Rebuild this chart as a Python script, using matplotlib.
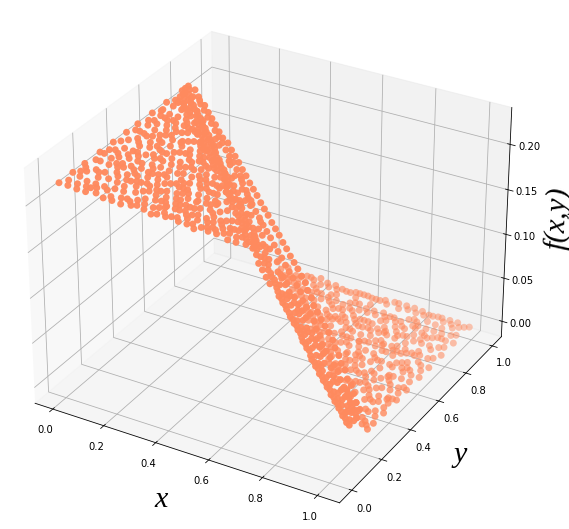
import matplotlib
matplotlib.use('Agg')
import matplotlib.pyplot as plt
import numpy as np
from matplotlib.colors import to_rgb

W, H = 569, 529

# upper wing, one x and z per row with the y values found along that row
fan1_x = [.00,.01,.02,.03,.04,.05,.06,.07,.08,.09,.10,.11,.12,.13,.14,.15,.16,.17,.18,.19,.20,.21,.22,.23,.24,
          .25,.26,.27,.28,.29,.30,.31,.32,.33,.34,.35,.36,.37,.38,.39,.40,.41,.42,.43,.44,.45,.46,.48]
fan1_z = [.218,.216,.214,.211,.209,.207,.205,.203,.201,.198,.196,.194,.192,.190,.187,.185,.183,.181,.179,.177,.174,.172,.170,.168,.166,
          .164,.161,.159,.157,.155,.153,.150,.148,.146,.144,.142,.140,.137,.135,.133,.131,.129,.126,.124,.122,.120,.118,.113]
fan1_y = [[.01,.09,.16,.25,.33,.41,.48,.57,.66,.78], [.05,.12,.21,.29,.36,.45,.53,.61,.70,.76],
          [.03,.14,.22,.31,.39,.51,.59,.67,.74], [.07,.18,.27,.35,.43,.55,.63,.72,.77],
          [.05,.11,.24,.30,.47,.52,.60,.69,.75], [.09,.16,.20,.34,.41,.49,.58,.65,.73],
          [.07,.13,.26,.33,.38,.46,.56,.62,.71], [.12,.19,.28,.37,.44,.54,.67,.74],
          [.10,.23,.31,.40,.50,.59,.64,.72], [.15,.21,.27,.36,.47,.55,.61,.70],
          [.11,.18,.25,.34,.42,.52,.63,.73], [.14,.22,.30,.39,.48,.57,.66,.71],
          [.13,.20,.28,.35,.44,.51,.60,.68], [.17,.26,.33,.41,.53,.62,.70],
          [.15,.24,.31,.38,.46,.58,.67], [.19,.27,.36,.43,.50,.56,.69],
          [.18,.22,.29,.40,.48,.61,.65], [.20,.32,.37,.45,.54,.59,.68],
          [.23,.30,.39,.47,.57,.64], [.21,.28,.35,.44,.52,.66],
          [.25,.33,.41,.49,.55,.62], [.22,.31,.38,.46,.58,.65],
          [.24,.29,.36,.43,.51,.60], [.27,.34,.42,.53,.63],
          [.26,.32,.40,.48,.57], [.28,.37,.45,.54,.62],
          [.30,.35,.43,.50,.60], [.29,.39,.47,.55,.63],
          [.33,.41,.52,.58], [.31,.38,.46,.61],
          [.36,.44,.49,.56], [.32,.40,.53,.60],
          [.35,.43,.47,.57], [.37,.50,.58],
          [.36,.44,.54], [.39,.46,.56],
          [.38,.48,.52], [.41,.45,.55],
          [.43,.51], [.40,.54], [.44,.49], [.42,.53], [.47,.52],
          [.45], [.50], [.47], [.51], [.49]]

# lower wing
fan2_x = [1.00,.99,.98,.97,.96,.95,.94,.93,.92,.91,.90,.89,.88,.87,.86,.85,.84,.83,.82,.81,.80,.79,.78,.77,.76,
          .75,.74,.73,.72,.71,.70,.69,.68,.67,.66,.65,.64,.63,.62,.61,.60,.59,.58,.57,.56,.55,.54,.52]
fan2_z = [.000,.002,.004,.007,.009,.011,.013,.015,.017,.020,.022,.024,.026,.028,.031,.033,.035,.037,.039,.041,.044,.046,.048,.050,.052,
          .055,.057,.059,.061,.063,.065,.068,.070,.072,.074,.076,.078,.081,.083,.085,.087,.089,.092,.094,.096,.098,.100,.105]
fan2_y = [[.25,.29,.36,.45,.52,.61,.68,.77,.86,.98], [.26,.32,.41,.48,.56,.64,.73,.81,.90,.96],
          [.25,.34,.43,.50,.59,.71,.79,.88,.94], [.27,.38,.46,.54,.66,.75,.83,.91,.95],
          [.25,.31,.40,.48,.57,.69,.76,.85,.92], [.28,.36,.44,.52,.62,.70,.80,.87,.93],
          [.26,.34,.42,.51,.60,.67,.74,.83,.90], [.30,.39,.47,.58,.65,.78,.86,.91],
          [.28,.37,.44,.55,.63,.72,.81,.90], [.33,.40,.50,.59,.68,.74,.84,.88],
          [.29,.38,.46,.53,.61,.71,.79,.87], [.31,.35,.43,.52,.62,.70,.77,.85],
          [.30,.41,.49,.57,.66,.73,.80,.86], [.34,.45,.53,.60,.69,.78,.83],
          [.32,.39,.47,.56,.64,.74,.84], [.31,.37,.51,.58,.65,.72,.81],
          [.35,.42,.46,.55,.62,.73,.82], [.33,.41,.50,.54,.63,.69,.78],
          [.36,.44,.52,.60,.70,.80], [.34,.47,.55,.63,.71,.79],
          [.35,.41,.50,.58,.67,.75], [.38,.45,.53,.61,.68,.76],
          [.36,.43,.48,.57,.65,.74], [.40,.49,.58,.66,.73],
          [.37,.46,.54,.63,.72], [.39,.44,.52,.60,.71],
          [.38,.47,.55,.64,.70], [.41,.50,.57,.62,.69],
          [.40,.48,.59,.68], [.39,.45,.54,.66],
          [.43,.51,.58,.65], [.41,.47,.55,.64],
          [.42,.49,.56,.62], [.44,.53,.63],
          [.43,.50,.60], [.46,.54,.61],
          [.44,.52,.58], [.47,.55,.60],
          [.45,.57], [.48,.53], [.46,.56], [.49,.54], [.47,.52],
          [.50], [.48], [.52], [.49], [.51]]

# dense ridge between the wings, two y values on every row
ridge_x = [.00,.01,.02,.03,.04,.05,.06,.07,.08,.09,.10,.11,.12,.13,.14,.15,.16,.17,.18,.19,.20,.21,.22,.23,.24,.25,
           .26,.27,.28,.29,.30,.31,.32,.33,.34,.35,.36,.37,.38,.39,.40,.41,.42,.43,.44,.45,.46,.47,.48,.49,.50,
           .51,.52,.53,.54,.55,.56,.57,.58,.59,.60,.61,.62,.63,.64,.65,.66,.67,.68,.69,.70,.71,.72,.73,.74,.75,
           .76,.77,.78,.79,.80,.81,.82,.83,.84,.85,.86,.87,.88,.89,.90,.91,.92,.93,.94,.95,.96]
ridge_z = [.218,.216,.214,.211,.209,.207,.205,.203,.201,.198,.196,.194,.192,.190,.187,.185,.183,.181,.179,.177,.174,.172,.170,.168,.166,.164,
           .161,.159,.157,.155,.153,.150,.148,.146,.144,.142,.140,.137,.135,.133,.131,.129,.126,.124,.122,.120,.118,.116,.113,.111,.109,
           .107,.105,.102,.100,.098,.096,.094,.092,.089,.087,.085,.083,.081,.078,.076,.074,.072,.070,.068,.065,.063,.061,.059,.057,.055,
           .052,.050,.048,.046,.044,.041,.039,.037,.035,.033,.031,.028,.026,.024,.022,.020,.017,.015,.013,.011,.009]
ridge_y = [.76,.80, .73,.79, .77,.81, .72,.78, .75,.80, .71,.79, .74,.78, .70,.79, .73,.77, .69,.78,
           .72,.76, .68,.77, .71,.75, .67,.76, .70,.74, .65,.75, .68,.73, .64,.74, .67,.72, .62,.74,
           .65,.71, .61,.73, .64,.70, .60,.72, .63,.69, .59,.71, .62,.68, .57,.70, .60,.67, .56,.69,
           .59,.65, .55,.68, .57,.64, .53,.67, .56,.62, .52,.66, .54,.61, .50,.65, .53,.60, .49,.64,
           .52,.59, .48,.63, .50,.58, .47,.62, .49,.57, .46,.61, .47,.56, .45,.60, .46,.55, .43,.59,
           .45,.54, .42,.58, .44,.53, .41,.57, .43,.52, .40,.56, .42,.51, .41,.55, .40,.50, .39,.54,
           .39,.49, .38,.53, .38,.48, .37,.51, .37,.46, .36,.50, .36,.45, .35,.48, .35,.44, .34,.47,
           .34,.43, .33,.46, .32,.41, .32,.45, .31,.40, .31,.44, .30,.38, .29,.43, .29,.37, .28,.41,
           .28,.36, .27,.40, .27,.35, .26,.38, .26,.34, .25,.37, .25,.32, .24,.35, .24,.31, .23,.34,
           .23,.30, .22,.32, .22,.28, .21,.30, .21,.27, .20,.29, .20,.25]

# loose points filling the gaps in the upper wing and the ridge
fill_x = [.02,.05,.03,.07,.04,.01,.06,.09,.02,.08, .11,.13,.10,.12,.15,.14,.17,.16,.19,.18,
          .21,.23,.20,.22,.25,.24,.27,.26,.29,.28, .31,.33,.30,.35,.34,.37,.36,.39,.41,.43,
          .03,.06,.01,.08,.05,.02,.09,.04,.07,.10, .12,.14,.11,.16,.13,.18,.15,.20,.17,.22,
          .24,.21,.26,.23,.28,.25,.30,.27,.32,.29, .19,.06,.10,.16,.08,.13,.04,.22,.01,.15,
          .02,.07,.05,.11,.09,.18,.14,.20,.24,.26, .03,.08,.12,.17,.21,.34,.38,.27,.31,.44,
          .01,.03,.02,.05,.04,.07,.06,.09,.08,.11, .10,.13,.12,.15,.14,.17,.16,.19,.18,.21,
          .20,.23,.22,.25,.24,.27,.26,.29,.28,.31, .30,.33,.32,.35,.34,.37,.36,.39,.38,.41,
          .40,.43,.42,.45,.44,.47,.46,.49,.48,.51, .50,.53,.52,.55,.54,.57,.56,.59,.58,.61,
          .60,.63,.62,.65,.64,.67,.66,.69,.68,.71, .70,.73,.72,.75,.74,.77,.76,.79,.78,.81,
          .80,.83,.82,.85,.84,.87,.86,.89,.88,.91, .90,.93,.92,.95,.94,.96,.95,.93,.91,.89,
          .55,.60,.65,.70,.75,.80,.85,.90,.58,.63, .68,.73,.78,.83,.88,.93,.56,.61,.66,.71]
fill_y = [.10,.37,.60,.24,.18,.26,.52,.43,.70,.15, .58,.29,.47,.66,.40,.55,.25,.63,.41,.52,
          .27,.49,.58,.40,.33,.61,.51,.42,.56,.36, .44,.41,.33,.43,.57,.52,.42,.47,.46,.50,
          .31,.10,.62,.35,.62,.46,.65,.71,.50,.30, .38,.19,.26,.34,.48,.33,.63,.44,.63,.55,
          .35,.52,.55,.37,.45,.50,.48,.34,.39,.49, .58,.29,.66,.54,.56,.36,.42,.30,.15,.31,
          .55,.60,.27,.44,.31,.60,.64,.30,.52,.38, .47,.47,.56,.50,.42,.39,.46,.60,.56,.48,
          .75,.75,.71,.75,.70,.74,.69,.73,.66,.71, .70,.69,.66,.68,.65,.67,.71,.65,.70,.64,
          .63,.68,.62,.62,.67,.65,.60,.66,.58,.63, .57,.63,.55,.62,.60,.56,.60,.52,.57,.58,
          .50,.51,.55,.49,.54,.51,.49,.47,.52,.46, .48,.44,.50,.43,.47,.43,.47,.41,.46,.41,
          .42,.40,.44,.39,.43,.37,.42,.36,.41,.35, .36,.34,.38,.33,.37,.32,.36,.30,.35,.29,
          .30,.28,.33,.27,.31,.26,.30,.25,.29,.24, .28,.23,.26,.22,.25,.23,.26,.27,.29,.31,
          .47,.44,.41,.38,.35,.32,.29,.26,.45,.42, .39,.36,.33,.30,.27,.24,.46,.43,.40,.37]
fill_z = [.214,.207,.211,.203,.209,.216,.205,.198,.214,.201, .194,.190,.196,.192,.185,.187,.181,.183,.177,.179,
          .172,.168,.174,.170,.164,.166,.159,.161,.155,.157, .150,.146,.153,.142,.144,.137,.140,.133,.129,.124,
          .211,.205,.216,.201,.207,.214,.198,.209,.203,.196, .192,.187,.194,.183,.190,.179,.185,.174,.181,.170,
          .166,.172,.161,.168,.157,.164,.153,.159,.148,.155, .177,.205,.196,.183,.201,.190,.209,.170,.216,.185,
          .214,.203,.207,.194,.198,.179,.187,.174,.166,.161, .211,.201,.192,.181,.172,.144,.135,.159,.150,.122,
          .216,.211,.214,.207,.209,.203,.205,.198,.201,.194, .196,.190,.192,.185,.187,.181,.183,.177,.179,.172,
          .174,.168,.170,.164,.166,.159,.161,.155,.157,.150, .153,.146,.148,.142,.144,.137,.140,.133,.135,.129,
          .131,.124,.126,.120,.122,.116,.118,.111,.113,.107, .109,.102,.105,.098,.100,.094,.096,.089,.092,.085,
          .087,.081,.083,.076,.078,.072,.074,.068,.070,.063, .065,.059,.061,.055,.057,.050,.052,.046,.048,.041,
          .044,.037,.039,.033,.035,.028,.031,.024,.026,.020, .022,.015,.017,.011,.013,.009,.011,.015,.020,.024,
          .098,.087,.076,.065,.055,.044,.033,.022,.092,.081, .070,.059,.048,.037,.026,.015,.096,.085,.074,.063]

# loose points filling the gaps in the lower wing
fill2_x = [.98,.95,.97,.93,.96,.99,.94,.91,.98,.92, .89,.87,.90,.88,.85,.86,.83,.84,.81,.82,
           .79,.77,.80,.78,.75,.76,.73,.74,.71,.72, .69,.67,.70,.65,.66,.63,.64,.61,.59,.57,
           .97,.94,.99,.92,.95,.98,.91,.96,.93,.90, .88,.86,.89,.84,.87,.82,.85,.80,.83,.78,
           .76,.79,.74,.77,.72,.75,.70,.73,.68,.71, .81,.94,.90,.84,.92,.78,.86,.96,.82,.88,
           .98,.93,.89,.85,.76,.72,.66,.62,.68,.74, .99,.95,.91,.87,.83,.80,.77,.64,.60,.69]
fill2_y = [.66,.58,.31,.75,.82,.44,.37,.46,.84,.66, .58,.73,.42,.35,.47,.60,.58,.48,.40,.67,
           .57,.36,.47,.60,.55,.42,.52,.60,.50,.56, .60,.48,.55,.50,.55,.51,.48,.57,.52,.48,
           .60,.78,.38,.40,.49,.27,.62,.36,.55,.64, .52,.42,.80,.66,.41,.52,.44,.62,.72,.53,
           .59,.49,.43,.69,.44,.65,.47,.66,.58,.42, .60,.50,.77,.39,.78,.40,.70,.60,.43,.68,
           .42,.30,.37,.64,.37,.50,.45,.50,.45,.52, .52,.67,.30,.59,.36,.37,.52,.55,.50,.44]
fill2_z = [.004,.011,.007,.015,.009,.002,.013,.020,.004,.017, .024,.028,.022,.026,.033,.031,.037,.035,.041,.039,
           .046,.050,.044,.048,.055,.052,.059,.057,.063,.061, .068,.072,.065,.076,.074,.081,.078,.085,.089,.094,
           .007,.013,.002,.017,.011,.004,.020,.009,.015,.022, .026,.031,.024,.035,.028,.039,.033,.044,.037,.048,
           .052,.046,.057,.050,.061,.055,.065,.059,.070,.063, .041,.013,.022,.035,.017,.048,.031,.009,.039,.026,
           .004,.015,.024,.033,.052,.061,.074,.083,.070,.057, .002,.011,.020,.028,.037,.044,.050,.078,.087,.068]

ticks_xy = [0.0, 0.2, 0.4, 0.6, 0.8, 1.0]
ticks_z = [0.00, 0.05, 0.10, 0.15, 0.20]

n1 = [len(r) for r in fan1_y]
n2 = [len(r) for r in fan2_y]
lower_y = np.concatenate([np.concatenate(fan2_y), fill2_y])
xs = np.concatenate([np.repeat(fan1_x, n1), np.repeat(ridge_x, 2), fill_x, np.repeat(fan2_x, n2), fill2_x])
ys = np.concatenate([np.concatenate(fan1_y), ridge_y, fill_y, lower_y])
zs = np.concatenate([np.repeat(fan1_z, n1), np.repeat(ridge_z, 2), fill_z, np.repeat(fan2_z, n2), fill2_z])

# fades towards the far end of the lower wing
alpha = np.full(len(xs), 0.97)
alpha[-len(lower_y):] = 1.0 - 0.55 * lower_y
colors = np.column_stack([np.tile(to_rgb('#ff8a5e'), (len(xs), 1)), alpha])

fig = plt.figure(figsize=(W/72, H/72), dpi=72)
ax = fig.add_axes([-0.013, -0.013, 0.958, 1.0304], projection='3d')
ax.set_box_aspect((4, 4, 3.07))
ax.scatter(xs, ys, zs, c=colors, s=48, linewidths=0, depthshade=False)
ax.set_xlim(-0.07, 1.08)
ax.set_ylim(-0.08, 1.07)
ax.set_zlim(-0.018, 0.24)
ax.set_xticks(ticks_xy)
ax.set_yticks(ticks_xy)
ax.set_zticks(ticks_z)
ax.set_xlabel('x', fontsize=30, family='Liberation Serif', style='italic', labelpad=13)
ax.set_ylabel('y', fontsize=30, family='Liberation Serif', style='italic', labelpad=13)
ax.set_zlabel('f(x,y)', fontsize=30, family='Liberation Serif', style='italic', labelpad=11)
fig.savefig('out.png', dpi=72)
